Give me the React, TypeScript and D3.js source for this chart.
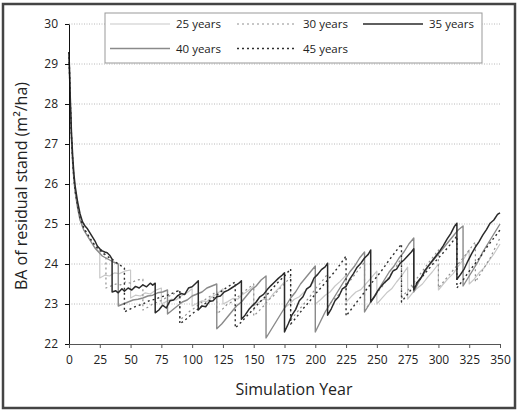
import React, { useEffect, useRef } from "react";
import * as d3 from "d3";

type Pt = [number, number];

const yearTicks = [0, 25, 50, 75, 100, 125, 150, 175, 200, 225, 250, 275, 300, 325, 350];
const baTicks = [22, 23, 24, 25, 26, 27, 28, 29, 30];

// basal area of the residual stand, [simulation year, m2/ha]
const ba25: Pt[] = [
  [0, 29.3], [1, 28.0], [2, 27.1], [3, 26.5], [4, 26.1], [5, 25.8], [7, 25.4], [9, 25.1], [12, 24.85], [15, 24.7], [18, 24.55], [21, 24.42], [24, 24.32], [25, 24.3],
  [25, 23.65], [29, 23.72], [33, 23.7], [37, 23.78], [41, 23.76], [45, 23.82], [50, 23.85],
  [50, 23.15], [54, 23.22], [58, 23.2], [62, 23.28], [66, 23.25], [70, 23.34], [75, 23.4],
  [75, 23.0], [79, 23.06], [83, 23.12], [87, 23.1], [91, 23.2], [95, 23.26], [100, 23.38],
  [100, 22.95], [104, 23.02], [108, 23.08], [112, 23.06], [116, 23.18], [120, 23.25], [125, 23.38],
  [125, 23.0], [129, 23.06], [133, 23.14], [137, 23.12], [141, 23.24], [145, 23.32], [150, 23.45],
  [150, 22.95], [154, 23.04], [158, 23.12], [162, 23.1], [166, 23.26], [170, 23.38], [175, 23.55],
  [175, 22.9], [179, 23.0], [183, 23.12], [187, 23.18], [191, 23.3], [195, 23.42], [200, 23.6],
  [200, 23.0], [204, 23.1], [208, 23.22], [212, 23.3], [216, 23.45], [220, 23.56], [225, 23.72],
  [225, 23.05], [229, 23.18], [233, 23.3], [237, 23.36], [241, 23.5], [245, 23.64], [250, 23.82],
  [250, 23.0], [254, 23.14], [258, 23.28], [262, 23.38], [266, 23.55], [270, 23.7], [275, 23.92],
  [275, 23.12], [279, 23.28], [283, 23.4], [287, 23.5], [291, 23.66], [295, 23.8], [300, 24.0],
  [300, 23.35], [304, 23.5], [308, 23.64], [312, 23.76], [316, 23.94], [320, 24.1], [325, 24.35],
  [325, 23.5], [329, 23.62], [333, 23.78], [337, 23.9], [341, 24.08], [345, 24.25], [350, 24.5],
];

const ba30: Pt[] = [
  [0, 29.3], [1, 28.05], [2, 27.15], [3, 26.55], [4, 26.1], [5, 25.8], [7, 25.42], [9, 25.12], [12, 24.88], [15, 24.72], [18, 24.57], [21, 24.45], [24, 24.35], [27, 24.27], [30, 24.2],
  [30, 23.4], [34, 23.45], [38, 23.5], [42, 23.48], [46, 23.55], [50, 23.52], [55, 23.6], [60, 23.62],
  [60, 22.85], [64, 22.92], [68, 23.0], [72, 23.05], [76, 23.1], [80, 23.18], [85, 23.25], [90, 23.35],
  [90, 22.6], [94, 22.7], [98, 22.82], [102, 22.9], [106, 23.0], [110, 23.1], [115, 23.2], [120, 23.32],
  [120, 22.75], [124, 22.85], [128, 22.98], [132, 23.05], [136, 23.15], [140, 23.25], [145, 23.38], [150, 23.5],
  [150, 22.7], [154, 22.82], [158, 22.95], [162, 23.1], [166, 23.2], [170, 23.35], [175, 23.5], [180, 23.68],
  [180, 22.6], [184, 22.75], [188, 22.9], [192, 23.05], [196, 23.2], [200, 23.38], [205, 23.55], [210, 23.75],
  [210, 22.95], [214, 23.08], [218, 23.2], [222, 23.35], [226, 23.5], [230, 23.65], [235, 23.85], [240, 24.05],
  [240, 22.85], [244, 23.0], [248, 23.18], [252, 23.35], [256, 23.5], [260, 23.68], [265, 23.9], [270, 24.15],
  [270, 23.15], [274, 23.3], [278, 23.45], [282, 23.62], [286, 23.78], [290, 23.95], [295, 24.15], [300, 24.35],
  [300, 23.4], [304, 23.55], [308, 23.7], [312, 23.85], [316, 24.0], [320, 24.15], [325, 24.35], [330, 24.55],
  [330, 23.55], [334, 23.75], [338, 23.95], [342, 24.15], [346, 24.4], [350, 24.65],
];

const ba35: Pt[] = [
  [0, 29.3], [1, 28.2], [2, 27.3], [3, 26.7], [4, 26.25], [5, 25.95], [7, 25.55], [9, 25.25], [11, 25.05], [13, 24.95], [15, 24.88], [17, 24.78], [19, 24.68], [21, 24.58], [23, 24.45], [25, 24.38], [27, 24.33], [29, 24.3], [31, 24.28], [33, 24.22], [35, 24.12],
  [35, 23.3], [38, 23.33], [40, 23.28], [43, 23.38], [45, 23.32], [48, 23.4], [51, 23.35], [54, 23.44], [57, 23.4], [60, 23.48], [63, 23.43], [66, 23.52], [68, 23.47], [70, 23.52],
  [70, 22.78], [73, 22.85], [76, 22.97], [79, 22.9], [82, 23.08], [85, 23.1], [88, 23.2], [91, 23.26], [94, 23.24], [97, 23.4], [100, 23.43], [103, 23.52], [105, 23.58],
  [105, 22.85], [108, 22.95], [111, 22.93], [114, 23.06], [117, 23.08], [120, 23.18], [123, 23.2], [126, 23.3], [129, 23.34], [132, 23.4], [135, 23.46], [138, 23.52], [140, 23.58],
  [140, 22.62], [143, 22.72], [146, 22.86], [149, 22.96], [152, 23.05], [155, 23.18], [158, 23.24], [161, 23.36], [164, 23.46], [167, 23.55], [170, 23.64], [173, 23.72], [175, 23.78],
  [175, 22.3], [178, 22.5], [181, 22.72], [184, 22.86], [187, 23.08], [190, 23.18], [193, 23.38], [196, 23.44], [199, 23.65], [202, 23.74], [205, 23.86], [208, 23.93], [210, 24.02],
  [210, 22.72], [213, 22.88], [216, 23.08], [219, 23.18], [222, 23.38], [225, 23.44], [228, 23.62], [231, 23.76], [234, 23.92], [237, 24.02], [240, 24.15], [243, 24.24], [245, 24.35],
  [245, 23.05], [248, 23.18], [251, 23.34], [254, 23.46], [257, 23.56], [260, 23.64], [263, 23.82], [266, 23.87], [269, 24.02], [272, 24.1], [275, 24.2], [278, 24.3], [280, 24.38],
  [280, 23.35], [283, 23.55], [286, 23.66], [289, 23.84], [292, 23.96], [295, 24.08], [298, 24.2], [301, 24.32], [304, 24.46], [307, 24.62], [310, 24.76], [313, 24.94], [315, 25.02],
  [315, 23.62], [318, 23.74], [321, 23.88], [324, 24.08], [327, 24.26], [330, 24.42], [333, 24.56], [336, 24.72], [339, 24.86], [342, 25.02], [345, 25.1], [348, 25.24], [350, 25.28],
];

const ba40: Pt[] = [
  [0, 29.3], [1, 28.0], [2, 27.1], [3, 26.5], [4, 26.1], [5, 25.8], [7, 25.4], [9, 25.1], [12, 24.85], [15, 24.7], [18, 24.55], [21, 24.4], [24, 24.3], [27, 24.2], [30, 24.15], [33, 24.1], [36, 24.05], [40, 24.0],
  [40, 22.95], [44, 23.0], [48, 23.05], [52, 23.1], [56, 23.12], [60, 23.15], [64, 23.2], [68, 23.22], [72, 23.28], [76, 23.3], [80, 23.35],
  [80, 22.75], [84, 22.85], [88, 22.95], [92, 23.05], [96, 23.1], [100, 23.2], [104, 23.25], [108, 23.3], [112, 23.4], [116, 23.45], [120, 23.5],
  [120, 22.38], [124, 22.5], [128, 22.65], [132, 22.8], [136, 22.95], [140, 23.05], [144, 23.2], [148, 23.35], [152, 23.45], [156, 23.6], [160, 23.7],
  [160, 22.15], [164, 22.35], [168, 22.55], [172, 22.75], [176, 22.95], [180, 23.15], [184, 23.3], [188, 23.5], [192, 23.65], [196, 23.8], [200, 23.95],
  [200, 22.3], [204, 22.55], [208, 22.8], [212, 23.0], [216, 23.2], [220, 23.4], [224, 23.6], [228, 23.8], [232, 23.95], [236, 24.15], [240, 24.3],
  [240, 22.8], [244, 23.0], [248, 23.2], [252, 23.4], [256, 23.6], [260, 23.8], [264, 23.95], [268, 24.15], [272, 24.3], [276, 24.5], [280, 24.65],
  [280, 23.3], [284, 23.55], [288, 23.75], [292, 23.95], [296, 24.1], [300, 24.25], [304, 24.4], [308, 24.55], [312, 24.7], [316, 24.85], [320, 24.95],
  [320, 23.45], [324, 23.65], [328, 23.85], [332, 24.05], [336, 24.3], [340, 24.5], [344, 24.7], [348, 24.9], [350, 25.0],
];

const ba45: Pt[] = [
  [0, 29.3], [1, 28.1], [2, 27.2], [3, 26.6], [4, 26.15], [5, 25.85], [7, 25.45], [9, 25.15], [12, 24.9], [15, 24.75], [18, 24.6], [21, 24.47], [24, 24.37], [27, 24.3], [30, 24.22], [33, 24.15], [36, 24.1], [40, 24.0], [45, 23.9],
  [45, 22.8], [50, 22.88], [55, 22.95], [60, 23.0], [65, 23.08], [70, 23.12], [75, 23.18], [80, 23.22], [85, 23.28], [90, 23.35],
  [90, 22.5], [95, 22.62], [100, 22.75], [105, 22.88], [110, 23.0], [115, 23.1], [120, 23.22], [125, 23.35], [130, 23.45], [135, 23.55],
  [135, 22.4], [140, 22.55], [145, 22.72], [150, 22.88], [155, 23.05], [160, 23.2], [165, 23.38], [170, 23.55], [175, 23.7], [180, 23.88],
  [180, 22.5], [185, 22.68], [190, 22.88], [195, 23.05], [200, 23.25], [205, 23.42], [210, 23.6], [215, 23.78], [220, 23.98], [225, 24.2],
  [225, 22.7], [230, 22.9], [235, 23.1], [240, 23.3], [245, 23.5], [250, 23.68], [255, 23.88], [260, 24.1], [265, 24.3], [270, 24.5],
  [270, 23.05], [275, 23.25], [280, 23.45], [285, 23.62], [290, 23.8], [295, 23.98], [300, 24.15], [305, 24.32], [310, 24.5], [315, 24.7],
  [315, 23.4], [320, 23.6], [325, 23.82], [330, 24.02], [335, 24.22], [340, 24.45], [345, 24.65], [350, 24.85],
];

const seriesLabels = ["25 years", "30 years", "35 years", "40 years", "45 years"];
const seriesData = [ba25, ba30, ba35, ba40, ba45];

type Style = { color: string; width: number; dash: string | null };
const styles: Style[] = [
  { color: "#c8c8c8", width: 1.2, dash: null },
  { color: "#909090", width: 1.2, dash: "2,3" },
  { color: "#2a2a2a", width: 1.5, dash: null },
  { color: "#8a8a8a", width: 1.4, dash: null },
  { color: "#2e2e2e", width: 1.4, dash: "2,3" },
];

const drawOrder = [0, 1, 3, 4, 2];
const FONT = "'Open Sans', 'Noto Sans', sans-serif";

const BAChart: React.FC<{ width: number; height: number }> = ({ width, height }) => {
  const ref = useRef<SVGSVGElement | null>(null);

  useEffect(() => {
    if (!ref.current) return;
    const svg = d3.select(ref.current);
    svg.selectAll("*").remove();

    const margin = { top: 24, right: 18, bottom: 68, left: 69 };
    const x = d3.scaleLinear().domain([0, 350]).range([margin.left, width - margin.right]);
    const y = d3.scaleLinear().domain([22, 30]).range([height - margin.bottom, margin.top]);

    // frame
    svg.append("rect")
      .attr("x", 3).attr("y", 4)
      .attr("width", width - 6).attr("height", height - 8)
      .attr("fill", "#fff")
      .attr("stroke", "#444")
      .attr("stroke-width", 2.5);

    // dotted gridlines
    svg.append("g")
      .selectAll("line")
      .data(baTicks.slice(1))
      .join("line")
      .attr("x1", x(0)).attr("x2", x(350))
      .attr("y1", (d) => y(d)).attr("y2", (d) => y(d))
      .attr("stroke", "#b8b8b8")
      .attr("stroke-width", 1)
      .attr("stroke-dasharray", "1,1.5");

    // series
    const line = d3.line<Pt>().x((d) => x(d[0])).y((d) => y(d[1]));
    drawOrder.forEach((i) => {
      const s = styles[i];
      svg.append("path")
        .datum(seriesData[i])
        .attr("d", line)
        .attr("fill", "none")
        .attr("stroke", s.color)
        .attr("stroke-width", s.width)
        .attr("stroke-dasharray", s.dash)
        .attr("stroke-linejoin", "round");
    });

    // axes
    const yAxis = svg.append("g")
      .attr("transform", `translate(${x(0)},0)`)
      .call(d3.axisLeft(y).tickValues(baTicks).tickSize(4).tickSizeOuter(0).tickPadding(7));
    yAxis.select(".domain").attr("stroke", "#111");
    yAxis.selectAll(".tick line").attr("stroke", "#111");
    yAxis.selectAll("text")
      .style("font-family", FONT).style("font-size", "12px").attr("fill", "#222");

    const xAxis = svg.append("g")
      .attr("transform", `translate(0,${y(22)})`)
      .call(d3.axisBottom(x).tickValues(yearTicks).tickSize(4).tickSizeOuter(0).tickPadding(7));
    xAxis.select(".domain").attr("stroke", "#555").attr("stroke-width", 1.2);
    xAxis.selectAll(".tick line").attr("stroke", "#555");
    xAxis.selectAll("text")
      .style("font-family", FONT).style("font-size", "12px").attr("fill", "#222");

    // axis titles
    svg.append("text")
      .attr("x", 294).attr("y", 395)
      .attr("text-anchor", "middle")
      .style("font-family", FONT).style("font-size", "16px")
      .attr("fill", "#222")
      .text("Simulation Year");

    svg.append("text")
      .attr("transform", `translate(27,186) rotate(-90)`)
      .attr("text-anchor", "middle")
      .style("font-family", FONT).style("font-size", "16px")
      .attr("fill", "#222")
      .text("BA of residual stand (m²/ha)");

    // legend
    const lg = svg.append("g");
    lg.append("rect")
      .attr("x", 105).attr("y", 13)
      .attr("width", 377).attr("height", 50)
      .attr("fill", "#fff")
      .attr("stroke", "#999")
      .attr("stroke-width", 1);
    const cols = [110, 237, 363];
    const rows = [24, 48.5];
    seriesLabels.forEach((label, i) => {
      const cx = cols[i % 3];
      const cy = rows[Math.floor(i / 3)];
      const s = styles[i];
      lg.append("line")
        .attr("x1", cx).attr("x2", cx + 60)
        .attr("y1", cy).attr("y2", cy)
        .attr("stroke", s.color)
        .attr("stroke-width", s.width)
        .attr("stroke-dasharray", s.dash);
      lg.append("text")
        .attr("x", cx + 66).attr("y", cy)
        .attr("dy", "0.35em")
        .style("font-family", FONT).style("font-size", "11.5px")
        .attr("fill", "#222")
        .text(label);
    });
  }, [width, height]);

  return <svg ref={ref} width={width} height={height} style={{ display: "block" }}></svg>;
};

export default function App() {
  return (
    <div style={{ position: "absolute", left: 0, top: 0 }}>
      <BAChart width={518} height={412} />
    </div>
  );
}
